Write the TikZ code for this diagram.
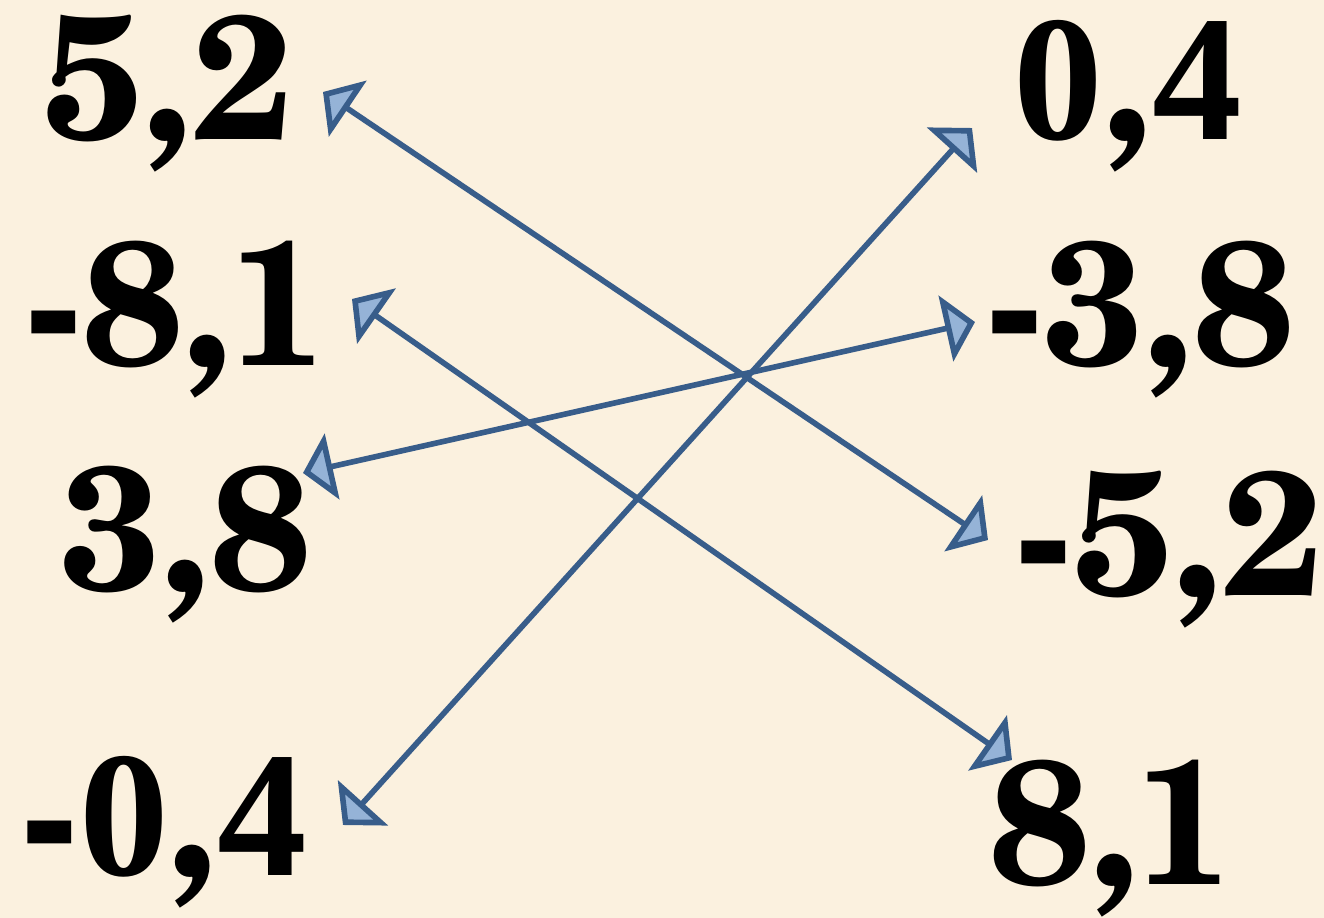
\documentclass[tikz,border=0pt]{standalone}
\usepackage{fontspec}
\setmainfont{TeX Gyre Schola}
\newfontfamily\tms{Liberation Serif}
\usepackage{tikz}
\usetikzlibrary{arrows.meta,calc}
\definecolor{bgbeige}{RGB}{251,241,223}
\definecolor{edgeblue}{RGB}{56,93,138}
\definecolor{tipblue}{RGB}{149,179,215}
\newcommand{\tdig}[1]{{\tms\fontsize{51}{53}\selectfont\bfseries #1}}

\begin{document}
\begin{tikzpicture}[num/.style={font=\fontsize{50}{52}\selectfont\bfseries,inner sep=0pt,anchor=base},
    arr/.style={edgeblue,line width=1.6pt,{Triangle[length=8.5pt,width=19pt,fill=tipblue]}-{Triangle[length=8.5pt,width=19pt,fill=tipblue]}}]
    \useasboundingbox (0,0) rectangle (13.24,-9.18);
    \fill[bgbeige] (0,0) rectangle (13.24,-9.18);
    % left column
    \node[num] (n52) at (1.68,-1.40){5,2};
    \node[num] (n81) at (1.76,-3.65){-8,1};
    \node[num] (n38) at (1.86,-5.90){3,8};
    \node[num] (n04) at (1.64,-8.75){-\tdig{0},\tdig{4}};
    % right column
    \node[num] (m04) at (11.28,-1.40){\tdig{0},\tdig{4}};
    \node[num] (m38) at (11.40,-3.65){-3,8};
    \node[num] (m52) at (11.69,-5.95){-5,2};
    \node[num] (m81) at (11.12,-8.84){8,1};
    \draw[arr] ([shift={(1.55,0.48)}]n52.base) -- ([shift={(-1.81,0.55)}]m52.base);
    \draw[arr] ([shift={(1.76,0.66)}]n81.base) -- ([shift={(-1.00,1.24)}]m81.base);
    \draw[arr] ([shift={(1.17,1.17)}]n38.base) -- ([shift={(-1.65,0.43)}]m38.base);
    \draw[arr] ([shift={(1.79,0.50)}]n04.base) -- ([shift={(-1.56,0.12)}]m04.base);
\end{tikzpicture}
\end{document}
